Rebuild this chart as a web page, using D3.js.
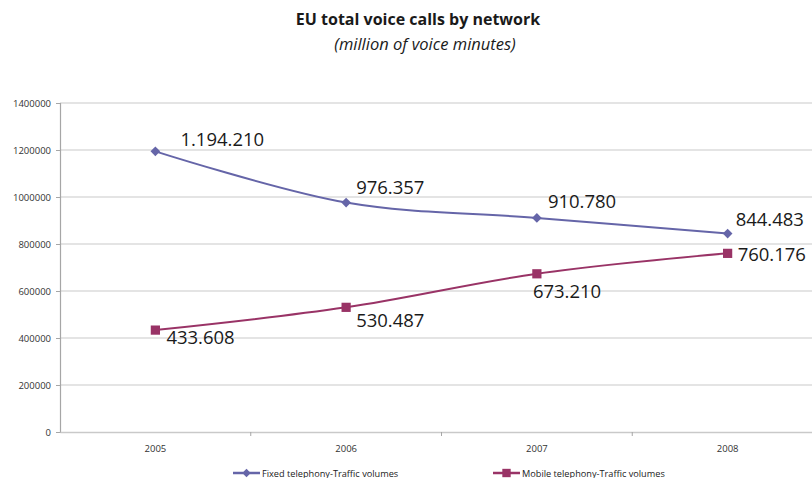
<!DOCTYPE html>
<html>
<head>
<meta charset="utf-8">
<script src="https://cdn.jsdelivr.net/npm/d3@7"></script>
<style>
  body { margin: 0; background: #fff; }
  svg { display: block; }
  text { font-family: "Open Sans", "DejaVu Sans", sans-serif; }
</style>
</head>
<body>
<svg id="chart" width="812" height="478"></svg>
<script>
// ---- data ----
const years = ["2005", "2006", "2007", "2008"];
const fixedValues = [1194210, 976357, 910780, 844483];
const mobileValues = [433608, 530487, 673210, 760176];
const yTicks = [0, 200000, 400000, 600000, 800000, 1000000, 1200000, 1400000];
const seriesNames = ["Fixed telephony-Traffic volumes", "Mobile telephony-Traffic volumes"];
const titleText = "EU total voice calls by network";
const subtitleText = "(million of voice minutes)";

// ---- label placement (layout, not data) ----
const fixedLabelOffsets = [[25, -5], [10, -9], [11, -10], [8, -8]];
const mobileLabelOffsets = [[11, 14], [10, 20], [-4, 24], [10, 8]];

const svg = d3.select("#chart");
const W = 812, H = 478;
const margin = { left: 60, top: 103, bottom: 46 };
const plotRight = 823;

const x = d3.scaleBand().domain(years).range([margin.left, plotRight]);
const y = d3.scaleLinear().domain([0, 1400000]).range([H - margin.bottom, margin.top]);

// title
svg.append("text").attr("x", 418).attr("y", 25).attr("text-anchor", "middle")
  .attr("font-size", 16).attr("font-weight", "bold").attr("fill", "#1a1a1a").text(titleText);
svg.append("text").attr("x", 425).attr("y", 50).attr("text-anchor", "middle")
  .attr("font-size", 16.5).attr("font-style", "italic").attr("fill", "#1a1a1a").text(subtitleText);

// gridlines
svg.append("g").selectAll("line").data(yTicks.filter(d => d > 0)).join("line")
  .attr("x1", margin.left).attr("x2", W)
  .attr("y1", d => y(d)).attr("y2", d => y(d))
  .attr("stroke", "#c9c9c9").attr("stroke-width", 1.2);

// y axis
const yAxis = svg.append("g").attr("transform", `translate(${margin.left},0)`)
  .call(d3.axisLeft(y).tickValues(yTicks).tickFormat(d3.format("d")).tickSize(4).tickPadding(5));
yAxis.select(".domain").attr("stroke", "#a6a6a6").attr("stroke-width", 1.2);
yAxis.selectAll(".tick line").attr("stroke", "#a6a6a6");
yAxis.selectAll(".tick text").attr("font-size", 9.5).attr("fill", "#333")
  .style("font-family", "'Open Sans', sans-serif");

// x axis
const xAxis = svg.append("g").attr("transform", `translate(0,${y(0)})`)
  .call(d3.axisBottom(x).tickSize(0).tickPadding(13));
xAxis.select(".domain").attr("stroke", "#c9c9c9").attr("stroke-width", 1.5);
xAxis.selectAll(".tick text").attr("font-size", 9.5).attr("fill", "#333")
  .style("font-family", "'Open Sans', sans-serif");
// category boundary ticks
svg.append("g").selectAll("line").data(years.slice(1)).join("line")
  .attr("x1", d => x(d)).attr("x2", d => x(d))
  .attr("y1", y(0)).attr("y2", y(0) + 4)
  .attr("stroke", "#a6a6a6");

const cx = d => x(d) + x.bandwidth() / 2;
const line = d3.line().x(d => cx(d.year)).y(d => y(d.value)).curve(d3.curveCatmullRom.alpha(0.5));

const series = [
  { name: seriesNames[0], values: fixedValues, color: "#6565a8", marker: "diamond", offsets: fixedLabelOffsets },
  { name: seriesNames[1], values: mobileValues, color: "#993366", marker: "square", offsets: mobileLabelOffsets }
];

const fmt = v => d3.format(",")(v).replace(/,/g, ".");

series.forEach(s => {
  const pts = years.map((yr, i) => ({ year: yr, value: s.values[i] }));
  svg.append("path").datum(pts).attr("d", line)
    .attr("fill", "none").attr("stroke", s.color).attr("stroke-width", 2);
  const sym = s.marker === "diamond"
    ? d3.symbol().type(d3.symbolDiamond2).size(60)
    : d3.symbol().type(d3.symbolSquare).size(85);
  svg.append("g").selectAll("path").data(pts).join("path")
    .attr("transform", d => `translate(${cx(d.year)},${y(d.value)})`)
    .attr("d", sym).attr("fill", s.color);
  svg.append("g").selectAll("text").data(pts).join("text")
    .attr("x", (d, i) => cx(d.year) + s.offsets[i][0])
    .attr("y", (d, i) => y(d.value) + s.offsets[i][1])
    .attr("font-size", 18.5).attr("fill", "#1a1a1a")
    .text(d => fmt(d.value));
});

// legend
const legendY = 473;
const legendX = [233, 493];
series.forEach((s, i) => {
  const g = svg.append("g").attr("transform", `translate(${legendX[i]},${legendY})`);
  g.append("line").attr("x1", 0).attr("x2", 27).attr("y1", 0).attr("y2", 0)
    .attr("stroke", s.color).attr("stroke-width", 2.5);
  const sym = s.marker === "diamond"
    ? d3.symbol().type(d3.symbolDiamond2).size(45)
    : d3.symbol().type(d3.symbolSquare).size(70);
  g.append("path").attr("transform", "translate(13.5,0)").attr("d", sym).attr("fill", s.color);
  g.append("text").attr("x", 29).attr("y", 3.5).attr("font-size", 9.2).attr("fill", "#222")
    .text(s.name);
});
</script>
</body>
</html>
